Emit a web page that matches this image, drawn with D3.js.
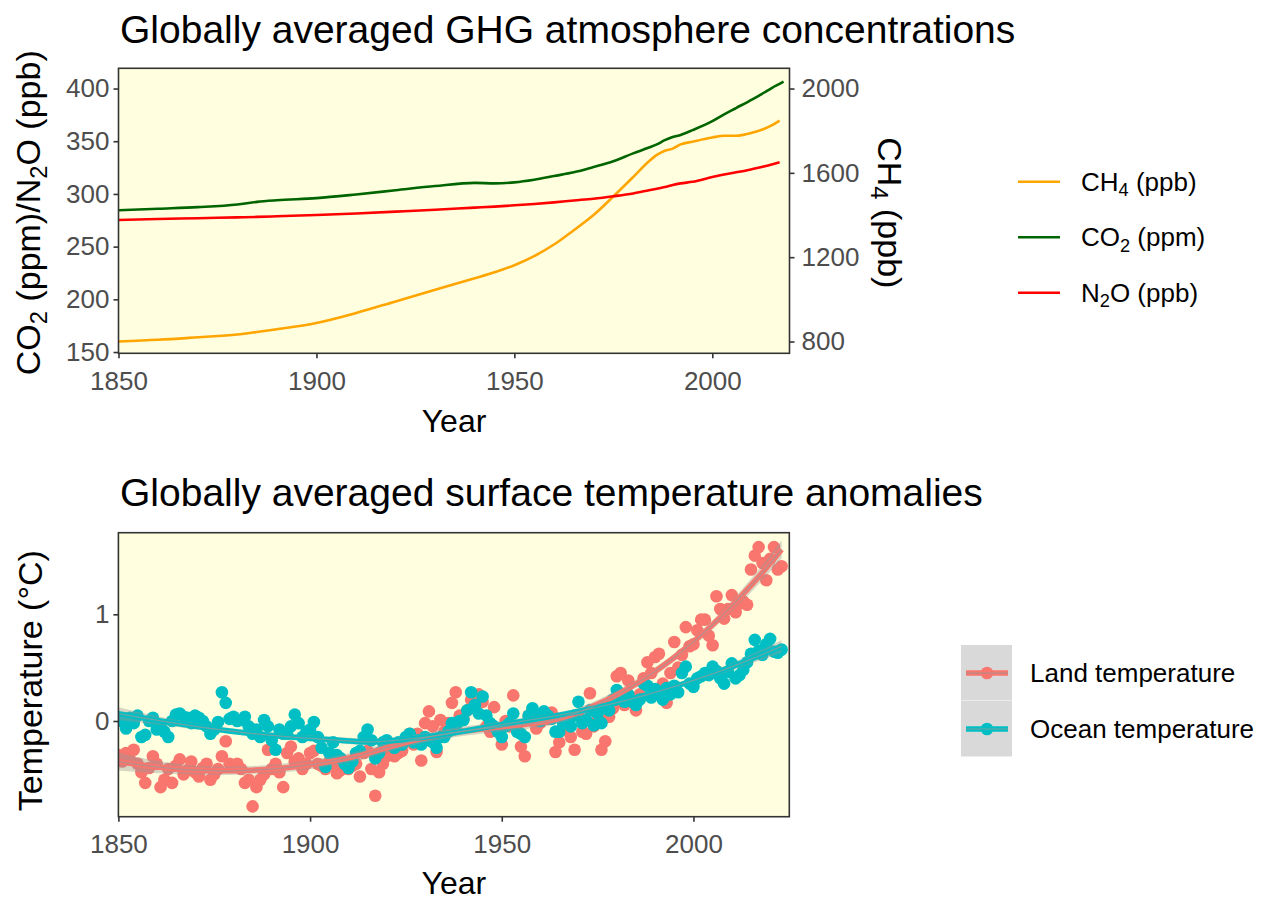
<!DOCTYPE html>
<html>
<head>
<meta charset="utf-8">
<script src="https://cdn.jsdelivr.net/npm/d3@7"></script>
<style>
  body { margin: 0; background: #fff; }
  svg text { font-family: "Liberation Sans", Arial, Helvetica, sans-serif; }
</style>
</head>
<body>
<svg id="chart" width="1273" height="901"></svg>
<script>
// ---------- Greenhouse gas concentrations ----------
const ghgYears = [1850,1860,1870,1880,1885,1890,1900,1910,1920,1930,1940,1945,1950,1955,1960,1965,1970,1975,1980,1984,1986,1988,1990,1992,1995,2000,2003,2006,2010,2013,2015,2017,2018];
const co2Ppm  = [284.5,286,287.5,290,292.5,294,296,299.5,303.5,307.5,310.5,310,311,313.5,317,320.5,325.5,331,338.5,344,347,351,354,356,360.5,369,375.5,381.5,389.5,396,400.5,404.5,406.5];
const n2oPpb  = [275.3,276.2,277,277.8,278.2,278.8,280,281.5,283.2,285,287,288,289.2,290.5,292,293.8,295.5,297.8,300.5,303.5,305,306.5,308.5,310,311.5,316,318.5,320.5,323.5,326,328,330,null];
const ch4Ppb  = [800,808,820,833,845,858,888,935,990,1045,1100,1128,1162,1205,1260,1328,1400,1488,1580,1655,1685,1705,1715,1735,1748,1768,1776,1776,1790,1808,1825,1848,null];

// CH4 is drawn against the right-hand axis (left value = CH4 / 5)
const ch4Factor = 5;

const leftTicks  = [150, 200, 250, 300, 350, 400];
const rightTicks = [800, 1200, 1600, 2000];
const yearTicks  = [1850, 1900, 1950, 2000];

// ---------- Surface temperature anomalies (°C) ----------
const tempYears = d3.range(1850, 2024);
const landTemp = [
  -0.32,-0.38,-0.30,-0.36,-0.27,-0.40,-0.48,-0.58,-0.44,-0.33,
  -0.40,-0.62,-0.55,-0.45,-0.58,-0.42,-0.36,-0.50,-0.46,-0.38,
  -0.48,-0.52,-0.44,-0.40,-0.55,-0.50,-0.45,-0.33,-0.19,-0.40,
  -0.42,-0.40,-0.45,-0.58,-0.55,-0.80,-0.62,-0.55,-0.50,-0.27,
  -0.45,-0.40,-0.48,-0.62,-0.30,-0.24,-0.38,-0.35,-0.45,-0.40,
  -0.30,-0.28,-0.40,-0.42,-0.45,-0.38,-0.40,-0.49,-0.46,-0.42,
  -0.45,-0.42,-0.40,-0.52,-0.30,-0.28,-0.45,-0.70,-0.48,-0.40,
  -0.33,-0.25,-0.33,-0.30,-0.28,-0.18,-0.12,-0.22,-0.12,-0.37,
  -0.02, 0.09,-0.05,-0.29, 0.01,-0.10,-0.02, 0.17, 0.27, 0.05,
   0.02, 0.10, 0.20, 0.12, 0.25, 0.18,-0.05,-0.10, 0.13,-0.08,
  -0.22, 0.00,-0.05, 0.24,-0.08,-0.24,-0.33, 0.05, 0.10,-0.07,
  -0.02, 0.05, 0.02, 0.08,-0.29,-0.20,-0.08,-0.08,-0.15,-0.27,
   0.05,-0.10,-0.12, 0.26,-0.05, 0.03,-0.27,-0.19, 0.04, 0.12,
   0.42, 0.45, 0.15, 0.38, 0.20, 0.10, 0.25, 0.40, 0.55, 0.45,
   0.60, 0.63, 0.35, 0.17, 0.45, 0.74, 0.50, 0.62, 0.88, 0.70,
   0.72, 0.85, 0.95, 0.95, 0.80, 0.71, 1.17, 1.05, 0.96, 1.05,
   1.18, 1.02, 1.10, 1.12, 1.09, 1.42, 1.55, 1.63, 1.48, 1.32,
   1.52, 1.63, 1.42, 1.45
];
const oceanTemp = [
   0.00, 0.02,-0.07, 0.03,-0.02, 0.05,-0.15,-0.13, 0.00, 0.03,
  -0.08,-0.05,-0.10,-0.15, 0.00, 0.06, 0.07, 0.04, 0.03,-0.02,
   0.05, 0.03, 0.00,-0.05,-0.12,-0.08,-0.01, 0.27, 0.17, 0.02,
   0.04, 0.00, 0.01, 0.04,-0.05,-0.12,-0.08,-0.15, 0.01,-0.05,
  -0.18,-0.27,-0.08,-0.12,-0.12,-0.05, 0.06,-0.02,-0.15,-0.10,
  -0.08,-0.01,-0.15,-0.25,-0.43,-0.30,-0.20,-0.32,-0.35,-0.40,
  -0.44,-0.38,-0.30,-0.28,-0.15,-0.08,-0.18,-0.35,-0.30,-0.20,
  -0.18,-0.22,-0.25,-0.20,-0.22,-0.15,-0.12,-0.20,-0.18,-0.22,
  -0.15,-0.18,-0.20,-0.25,-0.15,-0.15,-0.10,-0.02,-0.05, 0.00,
   0.01, 0.10, 0.27, 0.15, 0.07, 0.23, 0.05,-0.02,-0.05,-0.10,
  -0.15,-0.05,-0.02, 0.07,-0.10,-0.12,-0.15, 0.05, 0.12, 0.03,
   0.00, 0.09, 0.05, 0.02,-0.10,-0.10,-0.02, 0.01,-0.05, 0.05,
   0.18,-0.02, 0.01, 0.10,-0.04, 0.07,-0.02, 0.15, 0.10, 0.20,
   0.29, 0.25, 0.18, 0.25, 0.18, 0.15, 0.20, 0.35, 0.33, 0.22,
   0.30, 0.26, 0.20, 0.31, 0.25, 0.33, 0.27, 0.45, 0.51, 0.35,
   0.32, 0.40, 0.42, 0.45, 0.43, 0.51, 0.47, 0.40, 0.35, 0.46,
   0.54, 0.40, 0.43, 0.48, 0.55, 0.63, 0.76, 0.66, 0.62, 0.72,
   0.77, 0.65, 0.64, 0.67
];
const tempTicks = [0, 1];

// ---------- styling ----------
const panelFill = "#FFFFE0";
const frameColor = "#333333";
const tickTextColor = "#4D4D4D";
const colCH4 = "#FFA500", colCO2 = "#006400", colN2O = "#FF0000";
const colLand = "#F8766D", colOcean = "#00BFC4";

const svg = d3.select("#chart");
svg.append("rect").attr("width", 1273).attr("height", 901).attr("fill", "#fff");

// text with subscript parts: [["CH", false], ["4", true], [" (ppb)", false]]
function richText(sel, parts, size) {
  let prevSub = false;
  parts.forEach(([t, sub]) => {
    const ts = sel.append("tspan").text(t);
    if (sub) { ts.attr("font-size", size * 0.7).attr("dy", size * 0.22); }
    else if (prevSub) { ts.attr("dy", -size * 0.22); }
    prevSub = sub;
  });
  return sel;
}

function styleAxis(g, size) {
  g.select(".domain").remove();
  g.selectAll(".tick line").attr("stroke", frameColor).attr("stroke-width", 1.6);
  g.selectAll(".tick text").attr("fill", tickTextColor).attr("font-size", size);
}

const titleSize = 39;
const tickSize = 26;
const axisTitleSize = 32;
const sideTitleSize = 34;
const legendSize = 26;

// =============== Panel 1: GHG concentrations ===============
const p1 = { left: 118.5, right: 789.5, top: 68.3, bottom: 353.3 };
const x1 = d3.scaleLinear().domain([1850, 2019.5]).range([p1.left, p1.right]);
const y1 = d3.scaleLinear().domain([148.8, 419.2]).range([p1.bottom, p1.top]);
const y1r = d3.scaleLinear().domain([148.8 * ch4Factor, 419.2 * ch4Factor]).range([p1.bottom, p1.top]);

svg.append("text").attr("x", 120).attr("y", 43).attr("font-size", titleSize).attr("fill", "#000")
  .text("Globally averaged GHG atmosphere concentrations");

svg.append("rect").attr("x", p1.left).attr("y", p1.top)
  .attr("width", p1.right - p1.left).attr("height", p1.bottom - p1.top).attr("fill", panelFill);

const defs = svg.append("defs");
defs.append("clipPath").attr("id", "clip1")
  .append("rect").attr("x", p1.left).attr("y", p1.top)
  .attr("width", p1.right - p1.left).attr("height", p1.bottom - p1.top);

const ghgRows = ghgYears.map((yr, i) => ({ yr, co2: co2Ppm[i], n2o: n2oPpb[i], ch4: ch4Ppb[i] }));
const lines1 = svg.append("g").attr("clip-path", "url(#clip1)");
const mkLine = (acc, yScale) => d3.line()
  .defined(d => acc(d) != null)
  .x(d => x1(d.yr)).y(d => yScale(acc(d)))
  .curve(d3.curveMonotoneX);

lines1.append("path").datum(ghgRows).attr("fill", "none").attr("stroke", colCH4).attr("stroke-width", 2.6)
  .attr("d", mkLine(d => d.ch4, y1r));
lines1.append("path").datum(ghgRows).attr("fill", "none").attr("stroke", colCO2).attr("stroke-width", 2.6)
  .attr("d", mkLine(d => d.co2, y1));
lines1.append("path").datum(ghgRows).attr("fill", "none").attr("stroke", colN2O).attr("stroke-width", 2.6)
  .attr("d", mkLine(d => d.n2o, y1));

svg.append("rect").attr("x", p1.left).attr("y", p1.top)
  .attr("width", p1.right - p1.left).attr("height", p1.bottom - p1.top)
  .attr("fill", "none").attr("stroke", frameColor).attr("stroke-width", 1.6);

svg.append("g").attr("transform", `translate(0,${p1.bottom})`)
  .call(d3.axisBottom(x1).tickValues(yearTicks).tickFormat(d3.format("d")).tickSizeOuter(0).tickSize(5).tickPadding(13))
  .call(g => styleAxis(g, tickSize));
svg.append("g").attr("transform", `translate(${p1.left},0)`)
  .call(d3.axisLeft(y1).tickValues(leftTicks).tickFormat(d3.format("d")).tickSizeOuter(0).tickSize(5).tickPadding(4))
  .call(g => styleAxis(g, tickSize));
svg.append("g").attr("transform", `translate(${p1.right},0)`)
  .call(d3.axisRight(y1r).tickValues(rightTicks).tickFormat(d3.format("d")).tickSizeOuter(0).tickSize(5).tickPadding(7))
  .call(g => styleAxis(g, tickSize));

svg.append("text").attr("x", (p1.left + p1.right) / 2).attr("y", 432).attr("text-anchor", "middle")
  .attr("font-size", axisTitleSize).text("Year");
richText(svg.append("text")
  .attr("transform", `translate(40,${(p1.top + p1.bottom) / 2 + 2}) rotate(-90)`)
  .attr("text-anchor", "middle").attr("font-size", sideTitleSize),
  [["CO", false], ["2", true], [" (ppm)/N", false], ["2", true], ["O (ppb)", false]], sideTitleSize);
richText(svg.append("text")
  .attr("transform", `translate(878,${(p1.top + p1.bottom) / 2 + 2}) rotate(90)`)
  .attr("text-anchor", "middle").attr("font-size", sideTitleSize),
  [["CH", false], ["4", true], [" (ppb)", false]], sideTitleSize);

// legend for panel 1
const legend1 = [
  { parts: [["CH", false], ["4", true], [" (ppb)", false]], color: colCH4 },
  { parts: [["CO", false], ["2", true], [" (ppm)", false]], color: colCO2 },
  { parts: [["N", false], ["2", true], ["O (ppb)", false]], color: colN2O }
];
legend1.forEach((d, i) => {
  const cy = 181.7 + i * 55.5;
  svg.append("line").attr("x1", 1018).attr("x2", 1060).attr("y1", cy).attr("y2", cy)
    .attr("stroke", d.color).attr("stroke-width", 2.6);
  richText(svg.append("text").attr("x", 1081).attr("y", cy + 9).attr("font-size", legendSize), d.parts, legendSize);
});

// =============== Panel 2: temperature anomalies ===============
const p2 = { left: 118.4, right: 789.3, top: 532.7, bottom: 816.7 };
const x2 = d3.scaleLinear().domain([1850, 2025]).range([p2.left, p2.right]);
const y2 = d3.scaleLinear().domain([-0.897, 1.765]).range([p2.bottom, p2.top]);

svg.append("text").attr("x", 120).attr("y", 506).attr("font-size", titleSize).attr("fill", "#000")
  .text("Globally averaged surface temperature anomalies");

svg.append("rect").attr("x", p2.left).attr("y", p2.top)
  .attr("width", p2.right - p2.left).attr("height", p2.bottom - p2.top).attr("fill", panelFill);
defs.append("clipPath").attr("id", "clip2")
  .append("rect").attr("x", p2.left).attr("y", p2.top)
  .attr("width", p2.right - p2.left).attr("height", p2.bottom - p2.top);

// local quadratic regression (tricube weights), with pointwise standard errors
function loessFit(xs, ys, span, evalXs) {
  const n = xs.length;
  const q = Math.floor(span * n);
  const sc = (d3.max(xs) - d3.min(xs)) || 1;
  function weightsAt(x0) {
    const dist = xs.map(x => Math.abs(x - x0));
    const h = d3.sort(dist)[q - 1];
    const w = dist.map(d => { const u = d / h; return u < 1 ? Math.pow(1 - u * u * u, 3) : 0; });
    const A = [[0,0,0],[0,0,0],[0,0,0]];
    for (let i = 0; i < n; i++) {
      const d = (xs[i] - x0) / sc; const b = [1, d, d * d];
      for (let r = 0; r < 3; r++) for (let c = 0; c < 3; c++) A[r][c] += w[i] * b[r] * b[c];
    }
    const inv = invert3(A);
    return xs.map((x, i) => {
      const d = (x - x0) / sc;
      return w[i] * (inv[0][0] + inv[0][1] * d + inv[0][2] * d * d);
    });
  }
  let rss = 0, trace = 0;
  xs.forEach((x0, k) => {
    const l = weightsAt(x0);
    const fit = d3.sum(l, (li, i) => li * ys[i]);
    rss += (ys[k] - fit) ** 2; trace += l[k];
  });
  const sigma = Math.sqrt(rss / (n - trace));
  return evalXs.map(x0 => {
    const l = weightsAt(x0);
    const fit = d3.sum(l, (li, i) => li * ys[i]);
    const se = sigma * Math.sqrt(d3.sum(l, li => li * li));
    return { x: x0, y: fit, lo: fit - 1.975 * se, hi: fit + 1.975 * se };
  });
}
function invert3(m) {
  const [a, b, c] = m[0], [d, e, f] = m[1], [g, h, i] = m[2];
  const A = e * i - f * h, B = -(d * i - f * g), C = d * h - e * g;
  const det = a * A + b * B + c * C;
  return [
    [A / det, -(b * i - c * h) / det, (b * f - c * e) / det],
    [B / det, (a * i - c * g) / det, -(a * f - c * d) / det],
    [C / det, -(a * h - b * g) / det, (a * e - b * d) / det]
  ];
}

const series2 = [
  { name: "Land temperature", values: landTemp, color: colLand },
  { name: "Ocean temperature", values: oceanTemp, color: colOcean }
];
const firstYear = tempYears[0], lastYear = tempYears[tempYears.length - 1];
const gridX = d3.range(80).map(i => firstYear + (lastYear - firstYear) * i / 79);
series2.forEach(s => { s.smooth = loessFit(tempYears, s.values, 0.75, gridX); });

const plot2 = svg.append("g").attr("clip-path", "url(#clip2)");
series2.forEach(s => {
  plot2.append("g").selectAll("circle")
    .data(tempYears.map((yr, i) => ({ yr, v: s.values[i] })))
    .join("circle")
    .attr("cx", d => x2(d.yr)).attr("cy", d => y2(d.v)).attr("r", 6.3)
    .attr("fill", s.color);
});
series2.forEach(s => {
  plot2.append("path").datum(s.smooth)
    .attr("fill", "#999999").attr("fill-opacity", 0.4)
    .attr("d", d3.area().x(d => x2(d.x)).y0(d => y2(d.lo)).y1(d => y2(d.hi)));
});
series2.forEach(s => {
  plot2.append("path").datum(s.smooth)
    .attr("fill", "none").attr("stroke", s.color).attr("stroke-width", 5.5)
    .attr("d", d3.line().x(d => x2(d.x)).y(d => y2(d.y)));
});
series2.forEach(s => {
  plot2.append("path").datum(s.smooth)
    .attr("fill", "none").attr("stroke", "#9a9a9a").attr("stroke-opacity", 0.7).attr("stroke-width", 1.3)
    .attr("d", d3.line().x(d => x2(d.x)).y(d => y2(d.y)));
});

svg.append("rect").attr("x", p2.left).attr("y", p2.top)
  .attr("width", p2.right - p2.left).attr("height", p2.bottom - p2.top)
  .attr("fill", "none").attr("stroke", frameColor).attr("stroke-width", 1.6);

svg.append("g").attr("transform", `translate(0,${p2.bottom})`)
  .call(d3.axisBottom(x2).tickValues(yearTicks).tickFormat(d3.format("d")).tickSizeOuter(0).tickSize(5).tickPadding(13))
  .call(g => styleAxis(g, tickSize));
svg.append("g").attr("transform", `translate(${p2.left},0)`)
  .call(d3.axisLeft(y2).tickValues(tempTicks).tickFormat(d3.format("d")).tickSizeOuter(0).tickSize(5).tickPadding(4))
  .call(g => styleAxis(g, tickSize));

svg.append("text").attr("x", (p2.left + p2.right) / 2).attr("y", 894).attr("text-anchor", "middle")
  .attr("font-size", axisTitleSize).text("Year");
svg.append("text")
  .attr("transform", `translate(42,${(p2.top + p2.bottom) / 2 + 6}) rotate(-90)`)
  .attr("text-anchor", "middle").attr("font-size", sideTitleSize).text("Temperature (°C)");

// legend for panel 2
series2.forEach((s, i) => {
  const top = 645 + i * 56;
  const cy = top + 28;
  svg.append("rect").attr("x", 961).attr("y", top).attr("width", 51).attr("height", 55.5).attr("fill", "#D9D9D9");
  svg.append("line").attr("x1", 966).attr("x2", 1008).attr("y1", cy).attr("y2", cy)
    .attr("stroke", s.color).attr("stroke-width", 5.5);
  svg.append("circle").attr("cx", 987).attr("cy", cy).attr("r", 6.3).attr("fill", s.color);
  svg.append("line").attr("x1", 966).attr("x2", 1008).attr("y1", cy).attr("y2", cy)
    .attr("stroke", "#9a9a9a").attr("stroke-opacity", 0.5).attr("stroke-width", 1.3);
  svg.append("text").attr("x", 1030).attr("y", cy + 9).attr("font-size", legendSize).text(s.name);
});
</script>
</body>
</html>
